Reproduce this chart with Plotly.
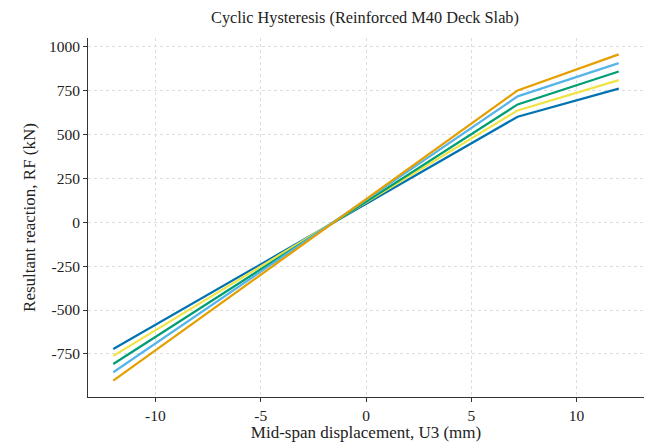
import plotly.graph_objects as go

# Displacement stations (mm) and reaction force (kN) for each load cycle
displacement = [-12.0, 7.2, 12.0]
cycle_1 = [-722, 600, 760]
cycle_2 = [-761, 636, 808]
cycle_3 = [-807, 670, 857]
cycle_4 = [-854, 716, 905]
cycle_5 = [-902, 750, 955]

series = [cycle_1, cycle_2, cycle_3, cycle_4, cycle_5]
colors = ["#0072B2", "#F0E442", "#009E73", "#56B4E9", "#E69F00"]

x_ticks = [-10, -5, 0, 5, 10]
x_labels = ["-10", "-5", "0", "5", "10"]
y_ticks = [1000, 750, 500, 250, 0, -250, -500, -750]
y_labels = ["1000", "750", "500", "250", "0", "-250", "-500", "-750"]

font_family = "Liberation Serif, Times New Roman, serif"

fig = go.Figure()
for vals, col in zip(series, colors):
    fig.add_trace(go.Scatter(
        x=displacement, y=vals, mode="lines",
        line=dict(color=col, width=2.2),
        showlegend=False,
    ))

axis_common = dict(
    showline=True, linecolor="#333333", linewidth=1,
    ticks="outside", ticklen=4, tickcolor="#333333",
    showgrid=True, gridcolor="#dddddd", griddash="dot", gridwidth=1,
    zeroline=False, mirror=False,
    tickfont=dict(family=font_family, size=15.5, color="#222222"),
)

fig.update_layout(
    width=646, height=442,
    margin=dict(l=88, r=1.5, t=38, b=45),
    paper_bgcolor="white", plot_bgcolor="white",
    font=dict(family=font_family, color="#222222"),
    title=dict(text="Cyclic Hysteresis (Reinforced M40 Deck Slab)",
               x=0.565, xanchor="center", y=0.96, yanchor="middle",
               font=dict(family=font_family, size=16.3, color="#222222")),
    xaxis=dict(range=[-13.2, 13.2], tickvals=x_ticks, ticktext=x_labels,
               title=dict(text="Mid-span displacement, U3 (mm)", standoff=2,
                          font=dict(family=font_family, size=17)),
               **axis_common),
    yaxis=dict(range=[-995, 1048], tickvals=y_ticks, ticktext=y_labels,
               title=dict(text="Resultant reaction, RF (kN)", standoff=8,
                          font=dict(family=font_family, size=17)),
               **axis_common),
)

fig.write_html("out.html")
